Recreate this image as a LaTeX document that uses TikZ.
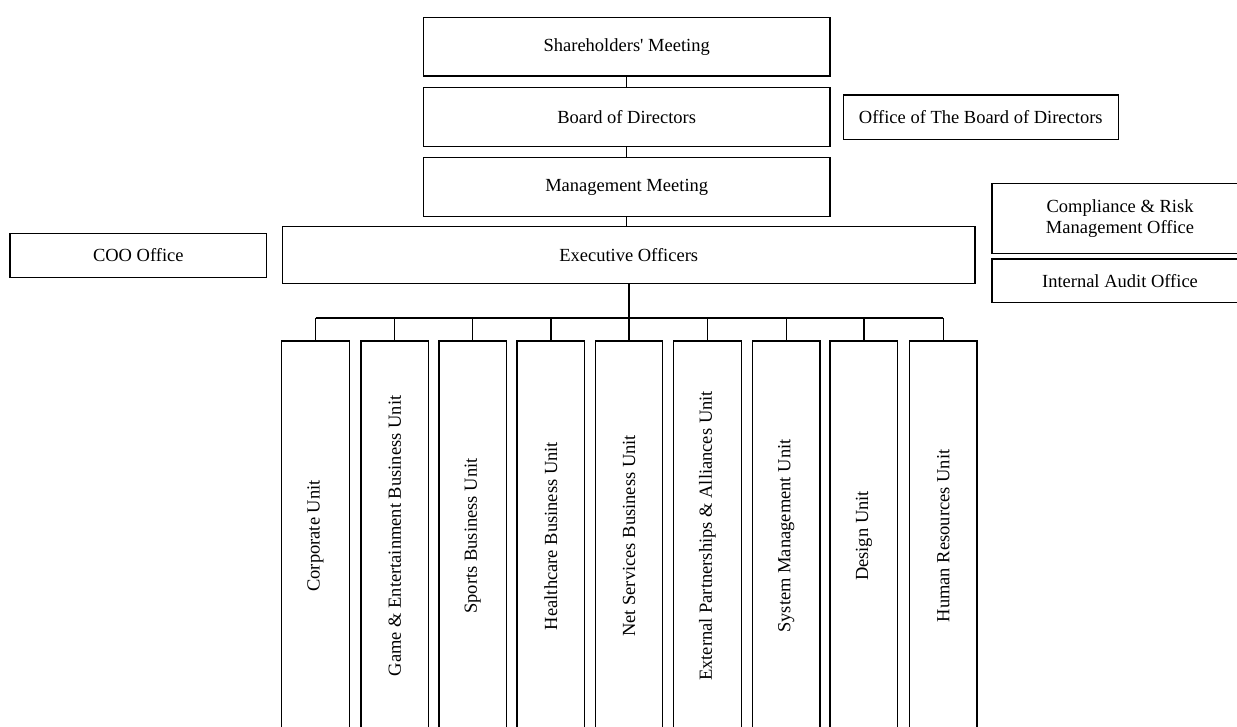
\documentclass[tikz,border=0pt]{standalone}
\usepackage{fontspec}
\setmainfont{Liberation Serif}
\begin{document}
\begin{tikzpicture}[x=1pt,y=-1pt,
  box/.style={draw=black,line width=1.4pt,inner sep=0pt,align=center,
    font=\fontsize{18.5}{21}\selectfont},
  unitbox/.style={box,rotate=90,minimum width=390,minimum height=67.5},
  link/.style={draw=black,line width=1.4pt}]
\useasboundingbox (0,0) rectangle (1237,727);
\clip (0,0) rectangle (1237,727);
\node[box,minimum width=406.7,minimum height=58.7] (sh) at (626.7,46.7) {Shareholders\textquotesingle\ Meeting};
\node[box,minimum width=406.7,minimum height=59.4] (bd) at (626.7,117) {Board of Directors};
\node[box,minimum width=406.7,minimum height=59] (mm) at (626.7,187.2) {Management Meeting};
\node[box,minimum width=692.7,minimum height=57] (eo) at (628.7,255) {Executive Officers};
\node[box,minimum width=275,minimum height=44.3] (obd) at (980.8,117.2) {Office of The Board of Directors};
\node[box,minimum width=256.7,minimum height=44] (coo) at (138.3,255.3) {COO Office};
\node[box,minimum width=255.7,minimum height=70] (crm) at (1120,218.3) {Compliance \& Risk\\Management Office};
\node[box,minimum width=255.7,minimum height=43.3] (iao) at (1120,280.7) {Internal Audit Office};

\node[unitbox] (u1) at (315.5,536) {Corporate Unit};
\node[unitbox] (u2) at (394.7,536) {Game \& Entertainment Business Unit};
\node[unitbox] (u3) at (472.7,536) {Sports Business Unit};
\node[unitbox] (u4) at (550.9,536) {Healthcare Business Unit};
\node[unitbox] (u5) at (629,536) {Net Services Business Unit};
\node[unitbox] (u6) at (707.5,536) {External Partnerships \& Alliances Unit};
\node[unitbox] (u7) at (786.2,536) {System Management Unit};
\node[unitbox] (u8) at (863.9,536) {Design Unit};
\node[unitbox] (u9) at (943.3,536) {Human Resources Unit};

\coordinate (bus) at (629,318);
\draw[link] (sh.south) -- (bd.north);
\draw[link] (bd.south) -- (mm.north);
\draw[link] (mm.south) -- (mm.south |- eo.north);
\draw[link] (eo.south -| bus) -- (bus);
\draw[link] (u1.east |- bus) -- (u9.east |- bus);
\foreach \u in {u1,u2,u3,u4,u5,u6,u7,u8,u9}
  \draw[link] (\u.east |- bus) -- (\u.east);
\end{tikzpicture}
\end{document}
